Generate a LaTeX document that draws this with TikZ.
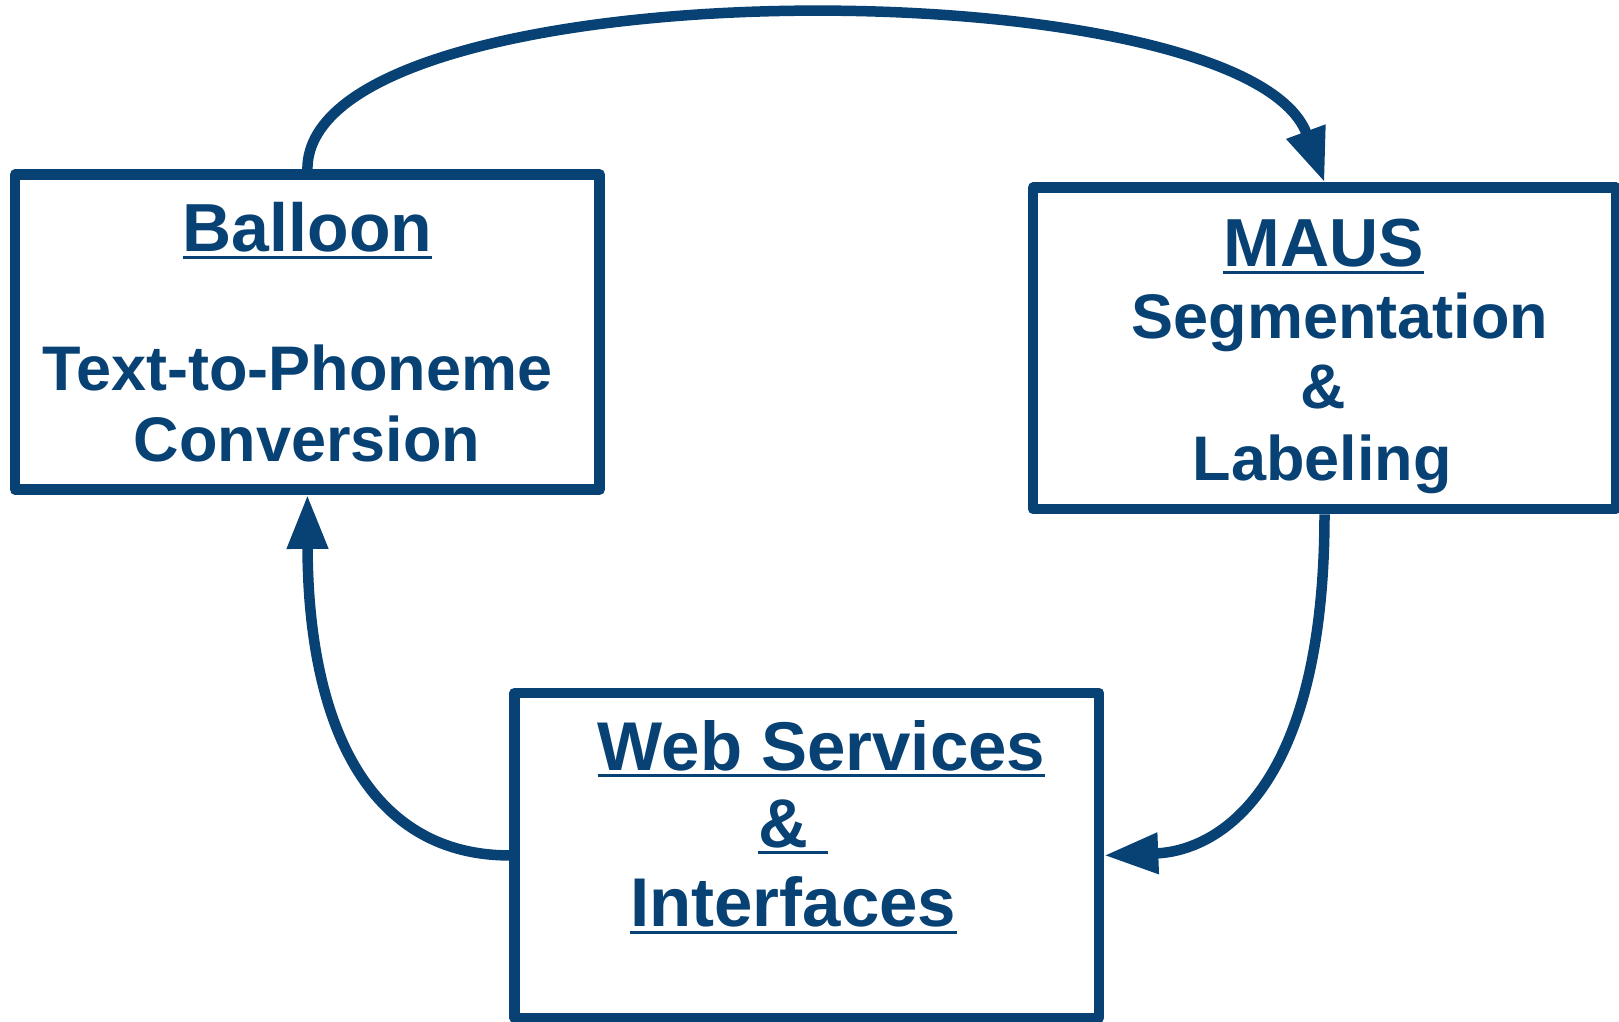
\documentclass[tikz,border=0pt]{standalone}
\usepackage{fontspec}
\setmainfont{Liberation Sans}
\usetikzlibrary{arrows.meta}
\definecolor{mausblue}{RGB}{8,66,116}
\begin{document}
\begin{tikzpicture}[x=1pt,y=-1pt,
  box/.style={draw=mausblue, line width=10.5pt, line join=round, rectangle, inner sep=0pt},
  conn/.style={draw=mausblue, line width=10.5pt, -{Triangle[length=54pt,width=39pt]}},
  txt/.style={text=mausblue, inner sep=0pt, anchor=base, font=\bfseries\fontsize{63}{72}\selectfont},
  ttl/.style={txt, font=\bfseries\fontsize{68}{80}\selectfont},
  wtl/.style={txt, font=\bfseries\fontsize{69}{80}\selectfont},
  uline/.style={draw=mausblue, line width=3.2pt}]

\useasboundingbox (0,0) rectangle (1619,1021);

% boxes
\node[box, minimum width=584.5pt, minimum height=315.2pt] (balloon) at (307.4,332.1) {};
\node[box, minimum width=583pt, minimum height=321.5pt] (maus) at (1324.5,348.25) {};
\node[box, minimum width=584.5pt, minimum height=325.2pt] (web) at (806.75,855.4) {};

% texts
\node[ttl] (tb) at (307.4,251.7) {Balloon};
\node[txt] (tt) at (297.6,390) {Text-to-Phoneme};
\node[txt] (tc) at (307,461.7) {Conversion};
\node[ttl] (tm) at (1323.6,266.7) {MAUS};
\node[txt] (ts) at (1340,338.3) {Segmentation};
\node[txt] (ta) at (1323.3,408.3) {\&};
\node[txt] (tl) at (1322.4,480.7) {Labeling};
\node[wtl] (tw) at (821.5,770) {Web Services};
\node[wtl] (tw2) at (793,847.3) {\&\ \mbox{}};
\node[wtl] (ti) at (793.3,926.7) {Interfaces};

% underlines
\foreach \n in {tb,tm,tw,tw2,ti}
  \draw[uline] ([yshift=-5.5pt]\n.base west) -- ([yshift=-5.5pt]\n.base east);

% connectors
\draw[conn] (balloon.north) .. controls (307.4,-36) and (1244,-36) .. (maus.north);
\draw[conn] (maus.south) .. controls (1324.5,790) and (1218,851) .. (web.east);
\draw[conn] (web.west) .. controls (375,855.4) and (308,735) .. (balloon.south);
\end{tikzpicture}
\end{document}
